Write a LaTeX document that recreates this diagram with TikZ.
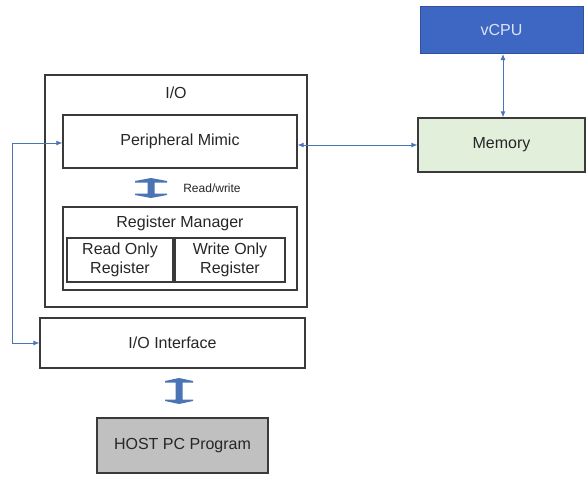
\documentclass[tikz,border=0pt]{standalone}
\usepackage{fontspec}
\setmainfont{Liberation Sans}
\usetikzlibrary{arrows.meta,calc}

\definecolor{edgegray}{HTML}{3A3A3A}
\definecolor{linkblue}{HTML}{4A74B4}
\definecolor{cpublue}{HTML}{3D67C2}
\definecolor{cputext}{HTML}{DCE3F2}
\definecolor{memgreen}{HTML}{E2EFDA}
\definecolor{hostgray}{HTML}{C0C0C0}

% I-beam shaped double block arrow: centre (#1,#2), half length #3, half width #4
\newcommand{\dblockarrow}[4]{%
  \fill[linkblue] (#1,#2-#3) -- (#1+#4,#2-#3+3) -- (#1+#4,#2-#3+4.5)
    -- (#1+3.5,#2-#3+4.5) -- (#1+3.5,#2+#3-4.5) -- (#1+#4,#2+#3-4.5)
    -- (#1+#4,#2+#3-3) -- (#1,#2+#3) -- (#1-#4,#2+#3-3)
    -- (#1-#4,#2+#3-4.5) -- (#1-3.5,#2+#3-4.5) -- (#1-3.5,#2-#3+4.5)
    -- (#1-#4,#2-#3+4.5) -- (#1-#4,#2-#3+3) -- cycle;}

\begin{document}
\begin{tikzpicture}[x=1pt,y=-1pt,
  every node/.style={font=\fontsize{16}{19}\selectfont, text=black!85},
  box/.style={draw=edgegray, line width=1.2pt, fill=white, inner sep=0pt},
  regbox/.style={box, line width=2pt, align=center},
  link/.style={draw=linkblue, line width=0.9pt, {Latex[length=6pt,width=5pt]}-{Latex[length=6pt,width=5pt]}}]
\useasboundingbox (0,0) rectangle (587,477);

% I/O block
\node[box, minimum width=262pt, minimum height=232pt] (io) at (176,191) {};
\node (iolabel) at (176,93) {I/O};
\node[box, minimum width=234pt, minimum height=53pt] (pm) at (180,141.5) {Peripheral Mimic};
\node[box, minimum width=234pt, minimum height=83pt] (rm) at (180,248.5) {};
\node (rmlabel) at (180,223) {Register Manager};
\node[regbox, minimum width=106pt, minimum height=44pt] (ro) at (120,260) {Read Only\\Register};
\node[regbox, minimum width=110pt, minimum height=44pt] (wo) at (230,260) {Write Only\\Register};

% interface and host
\node[box, minimum width=265pt, minimum height=50pt] (ioif) at (172.5,343) {I/O Interface};
\node[box, line width=1.6pt, fill=hostgray, minimum width=171pt, minimum height=55pt] (host) at (182.5,445.5) {HOST PC Program};

% CPU and memory
\node[draw=cpublue!80!black, line width=1pt, fill=cpublue, text=cputext, minimum width=163pt, minimum height=47pt] (vcpu) at (501.5,30) {vCPU};
\node[box, fill=memgreen, minimum width=167pt, minimum height=54pt] (mem) at (501.5,145) {Memory};

% links
\draw[link] (vcpu.south -| 503,0) -- (mem.north -| 503,0);
\draw[link] (pm.east |- mem.west) -- (mem.west);
\draw[link] (pm.west |- 0,143) -- (12,143) |- (ioif.west);

% read/write and host transfer arrows
\dblockarrow{151}{188}{10}{16}
\node[font=\fontsize{12}{14}\selectfont] (rwlabel) at (212,188) {Read/write};
\dblockarrow{179}{391}{13}{14}
\end{tikzpicture}
\end{document}
